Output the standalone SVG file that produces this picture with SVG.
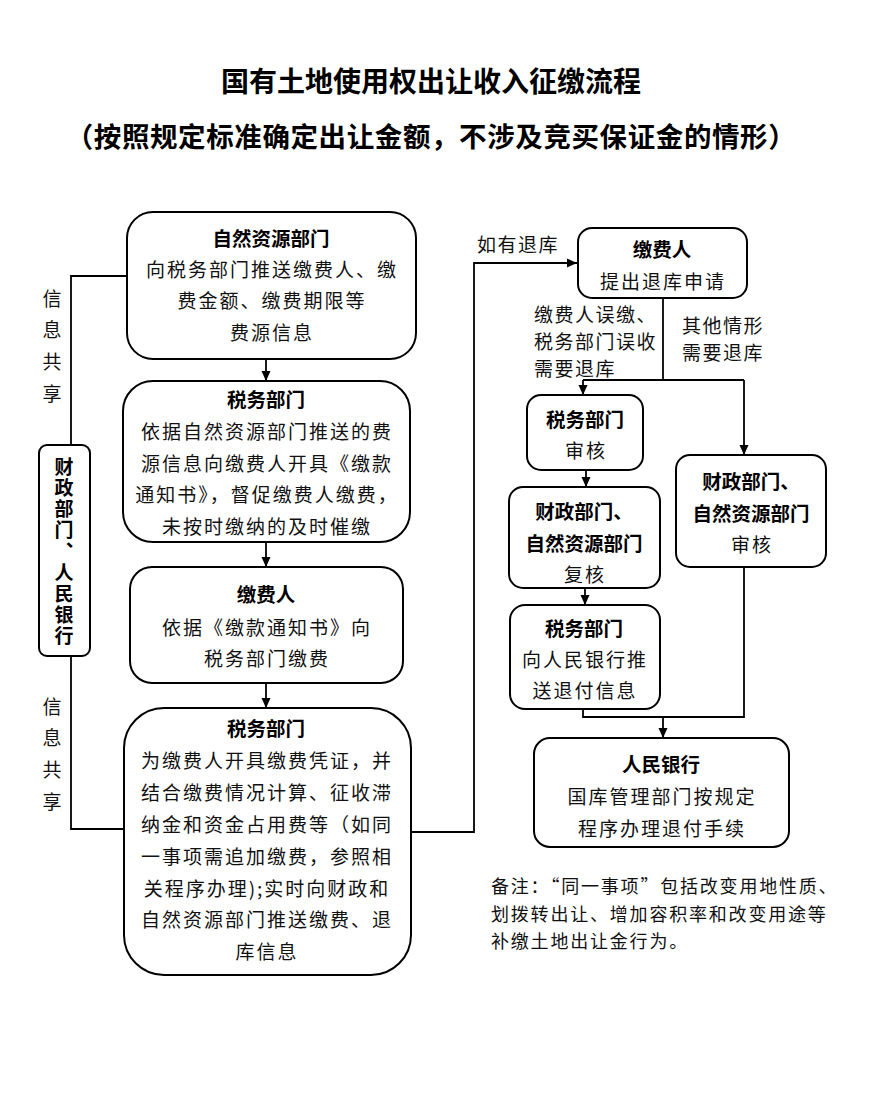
<svg xmlns="http://www.w3.org/2000/svg" width="877" height="1112" viewBox="0 0 877 1112">
<defs>
<marker id="arr" markerUnits="userSpaceOnUse" viewBox="0 0 10 10" refX="10" refY="5" markerWidth="10" markerHeight="10" orient="auto">
<path d="M0,0.5 L10,5 L0,9.5 z" fill="#000"/>
</marker>
<style>
text{font-family:"Noto Sans CJK SC","Noto Sans",sans-serif;fill:#111;dominant-baseline:central}
.t{font-size:28px;font-weight:bold;text-anchor:middle;fill:#000}
.h{font-size:19.5px;font-weight:bold;text-anchor:middle;fill:#000}
.b{font-size:19px;letter-spacing:2px;text-anchor:middle}
.l{font-size:19px;letter-spacing:1.5px}
.n{font-size:18px;letter-spacing:1.8px}
.v{font-size:19px;writing-mode:vertical-rl;letter-spacing:12.7px}
.vb{font-size:19px;font-weight:bold;writing-mode:vertical-rl;letter-spacing:2.2px;fill:#000}
.box{fill:#fff;stroke:#000;stroke-width:2}
.c{fill:none;stroke:#000;stroke-width:1.8}
.ca{fill:none;stroke:#000;stroke-width:1.8;marker-end:url(#arr)}
</style>
</defs>
<rect width="877" height="1112" fill="#fff"/>
<g id="title">
<text class="t" x="431" y="80">国有土地使用权出让收入征缴流程</text>
<text class="t" x="431" y="135" style="font-size:27.5px;letter-spacing:0.6px">（按照规定标准确定出让金额，不涉及竞买保证金的情形）</text>
</g>
<g id="connectors">
<path class="ca" d="M266,359 V381"/>
<path class="ca" d="M266,542 V567"/>
<path class="ca" d="M266,683 V708"/>
<path class="c" d="M127,276 H71 V445"/>
<path class="c" d="M71,656 V829 H124"/>
<path class="ca" d="M411,832 H474 V263 H577"/>
<path class="c" d="M663,298 V380"/>
<path class="c" d="M583,380 H744"/>
<path class="ca" d="M583,380 V395"/>
<path class="ca" d="M744,380 V455"/>
<path class="ca" d="M586,470 V487"/>
<path class="ca" d="M585,588 V605"/>
<path class="c" d="M583,709 V717 H744 V567"/>
<path class="ca" d="M663,717 V738"/>
</g>
<g id="label-share-top">
<text class="v" x="52" y="289">信息共享</text>
</g>
<g id="label-share-bottom">
<text class="v" x="52" y="697">信息共享</text>
</g>
<g id="label-refund">
<text class="l" x="477" y="243">如有退库</text>
</g>
<g id="label-case1">
<text class="l" x="534" y="313">缴费人误缴、</text>
<text class="l" x="534" y="340">税务部门误收</text>
<text class="l" x="534" y="367">需要退库</text>
</g>
<g id="label-case2">
<text class="l" x="682" y="324">其他情形</text>
<text class="l" x="682" y="351">需要退库</text>
</g>
<g id="node-natural">
<rect class="box" x="127" y="212" width="289" height="147" rx="26"/>
<text class="h" x="271" y="237">自然资源部门</text>
<text class="b" x="272" y="268">向税务部门推送缴费人、缴</text>
<text class="b" x="272" y="299">费金额、缴费期限等</text>
<text class="b" x="272" y="331">费源信息</text>
</g>
<g id="node-tax1">
<rect class="box" x="123" y="381" width="287" height="161" rx="30"/>
<text class="h" x="266" y="398">税务部门</text>
<text class="b" x="267" y="430">依据自然资源部门推送的费</text>
<text class="b" x="267" y="462">源信息向缴费人开具《缴款</text>
<text class="b" x="267" y="493">通知书》，督促缴费人缴费，</text>
<text class="b" x="267" y="525">未按时缴纳的及时催缴</text>
</g>
<g id="node-payer">
<rect class="box" x="130" y="567" width="273" height="116" rx="22"/>
<text class="h" x="266" y="593">缴费人</text>
<text class="b" x="267" y="626">依据《缴款通知书》向</text>
<text class="b" x="267" y="657">税务部门缴费</text>
</g>
<g id="node-tax2">
<rect class="box" x="124" y="708" width="287" height="267" rx="40"/>
<text class="h" x="266" y="727">税务部门</text>
<text class="b" x="267" y="759">为缴费人开具缴费凭证，并</text>
<text class="b" x="267" y="791">结合缴费情况计算、征收滞</text>
<text class="b" x="267" y="823">纳金和资金占用费等（如同</text>
<text class="b" x="267" y="855">一事项需追加缴费，参照相</text>
<text class="b" x="267" y="887">关程序办理);实时向财政和</text>
<text class="b" x="267" y="918">自然资源部门推送缴费、退</text>
<text class="b" x="267" y="950">库信息</text>
</g>
<g id="node-finance-bank">
<rect class="box" x="39" y="445" width="51" height="211" rx="8"/>
<text class="vb" x="64" y="457">财政部门、人民银行</text>
</g>
<g id="node-payer-refund">
<rect class="box" x="578" y="228" width="169" height="70" rx="14"/>
<text class="h" x="662" y="248">缴费人</text>
<text class="b" x="663" y="280">提出退库申请</text>
</g>
<g id="node-tax-review">
<rect class="box" x="527" y="395" width="116" height="75" rx="14"/>
<text class="h" x="585" y="418">税务部门</text>
<text class="b" x="586" y="449">审核</text>
</g>
<g id="node-recheck">
<rect class="box" x="509" y="487" width="151" height="101" rx="14"/>
<text class="h" x="584" y="510">财政部门、</text>
<text class="h" x="584" y="542">自然资源部门</text>
<text class="b" x="585" y="573">复核</text>
</g>
<g id="node-other-review">
<rect class="box" x="676" y="455" width="150" height="112" rx="14"/>
<text class="h" x="751" y="480">财政部门、</text>
<text class="h" x="751" y="512">自然资源部门</text>
<text class="b" x="752" y="543">审核</text>
</g>
<g id="node-tax-push">
<rect class="box" x="510" y="605" width="150" height="104" rx="15"/>
<text class="h" x="584" y="627">税务部门</text>
<text class="b" x="585" y="658">向人民银行推</text>
<text class="b" x="585" y="689">送退付信息</text>
</g>
<g id="node-pboc">
<rect class="box" x="534" y="738" width="255" height="109" rx="16"/>
<text class="h" x="661" y="763">人民银行</text>
<text class="b" x="662" y="795">国库管理部门按规定</text>
<text class="b" x="662" y="827">程序办理退付手续</text>
</g>
<g id="note">
<text class="n" x="491" y="885">备注：“同一事项”包括改变用地性质、</text>
<text class="n" x="491" y="913">划拨转出让、增加容积率和改变用途等</text>
<text class="n" x="491" y="940">补缴土地出让金行为。</text>
</g>
</svg>
